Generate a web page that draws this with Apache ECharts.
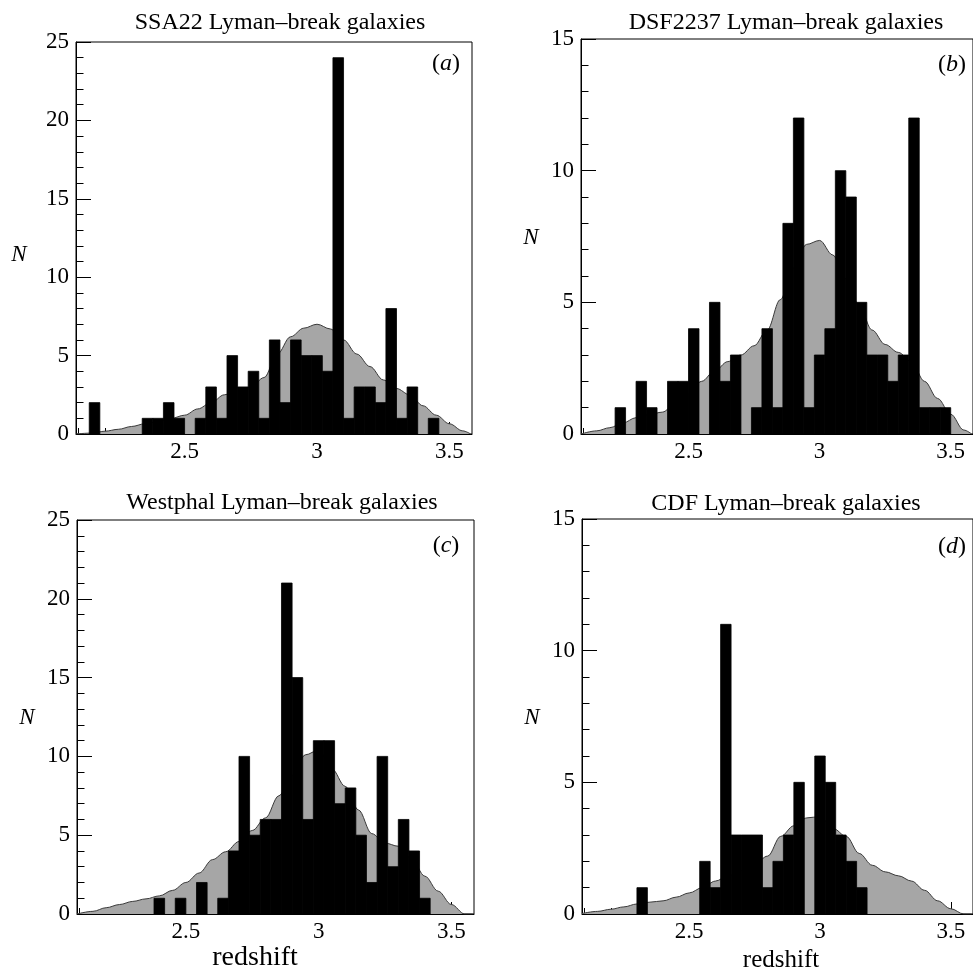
<!DOCTYPE html>
<html>
<head>
<meta charset="utf-8">
<script src="https://cdn.jsdelivr.net/npm/echarts@6/dist/echarts.min.js"></script>
<style>
html,body{margin:0;padding:0;background:#fff;}
#chart{width:973px;height:974px;}
</style>
</head>
<body>
<div id="chart"></div>
<script>
// ---------------- DATA ----------------
const binEdges = [2.10,2.14,2.18,2.22,2.26,2.30,2.34,2.38,2.42,2.46,2.50,2.54,2.58,2.62,2.66,2.70,2.74,2.78,2.82,2.86,2.90,2.94,2.98,3.02,3.06,3.10,3.14,3.18,3.22,3.26,3.30,3.34,3.38,3.42,3.46];
const binWidth = 0.04;
const countsSSA22    = [0,2,0,0,0,0,1,1,2,1,0,1,3,1,5,3,4,1,6,2,6,5,5,4,24,1,3,3,2,8,1,3,0,1,0];
const countsDSF2237  = [0,0,0,1,0,2,1,0,2,2,4,0,5,2,3,0,1,4,1,8,12,1,3,4,10,9,5,3,3,2,3,12,1,1,1];
const countsWestphal = [0,0,0,0,0,0,0,1,0,1,0,2,0,1,4,10,5,6,6,21,15,6,11,11,7,8,5,2,10,3,6,4,1,0,0];
const countsCDF      = [0,0,0,0,0,1,0,0,0,0,0,2,1,11,3,3,3,1,2,3,5,0,6,5,3,2,1,0,0,0,0,0,0,0,0];

const curveZ = [2.09,2.15,2.20,2.25,2.30,2.35,2.40,2.45,2.50,2.55,2.60,2.65,2.70,2.75,2.80,2.85,2.90,2.95,3.00,3.05,3.10,3.15,3.20,3.25,3.30,3.35,3.40,3.45,3.50,3.55,3.58];
const curveSSA22    = [0,0.06,0.18,0.30,0.48,0.65,0.80,1.00,1.20,1.60,2.00,2.50,2.75,3.00,3.60,5.10,6.20,6.75,7.00,6.70,6.00,5.10,4.30,3.45,2.90,2.50,1.80,1.20,0.65,0.20,0];
const curveDSF2237  = [0,0.12,0.24,0.42,0.62,0.74,0.83,1.15,1.55,2.00,2.40,2.75,3.00,3.35,3.95,5.10,6.30,7.20,7.35,6.80,5.90,4.90,3.95,3.40,3.10,2.75,2.00,1.35,0.75,0.15,0];
const curveWestphal = [0,0.17,0.40,0.60,0.80,0.96,1.15,1.50,2.00,2.60,3.45,3.95,4.60,5.30,6.10,7.50,8.80,10.10,10.40,9.20,8.10,6.60,5.10,4.50,4.30,3.50,2.40,1.45,0.60,0,0];
const curveCDF      = [0.02,0.10,0.18,0.27,0.38,0.45,0.50,0.64,0.80,1.00,1.25,1.45,1.65,1.90,2.20,2.95,3.35,3.65,3.70,3.25,2.95,2.30,1.85,1.60,1.45,1.25,0.90,0.50,0.20,0,0];

const xTickLabels = [2.5, 3, 3.5];
const xMinorTicks = [2.1,2.2,2.3,2.4,2.5,2.6,2.7,2.8,2.9,3.0,3.1,3.2,3.3,3.4,3.5];
const xRange = [2.09, 3.585];
const yMaxes = [25, 15, 25, 15];

const titles = ['SSA22 Lyman\u2013break galaxies','DSF2237 Lyman\u2013break galaxies','Westphal Lyman\u2013break galaxies','CDF Lyman\u2013break galaxies'];
const letters = ['a','b','c','d'];
const xAxisTitle = 'redshift';
const yAxisTitle = 'N';

// ---------------- LAYOUT ----------------
const grids = [
  {left:76,  top:42,  width:396, height:392},
  {left:581, top:39,  width:397, height:395},
  {left:77,  top:520, width:397, height:394},
  {left:582, top:519, width:397, height:395}
];
const countsAll = [countsSSA22, countsDSF2237, countsWestphal, countsCDF];
const curvesAll = [curveSSA22, curveDSF2237, curveWestphal, curveCDF];

const FONT = "'Liberation Serif','DejaVu Serif',serif";

const chart = echarts.init(document.getElementById('chart'), null, {renderer:'canvas'});

const gridOpt = [], xAxes = [], yAxes = [], series = [];
grids.forEach((g, i) => {
  gridOpt.push(Object.assign({show:true, borderColor:'#000', borderWidth:1, backgroundColor:'transparent', containLabel:false}, g));
  xAxes.push({
    type:'value', gridIndex:i, min:xRange[0], max:xRange[1], position:'bottom',
    axisLine:{show:true, lineStyle:{color:'#000', width:1}},
    axisTick:{show:true, inside:true, length:12, customValues:xTickLabels, lineStyle:{color:'#000', width:1}},
    axisLabel:{show:true, customValues:xTickLabels, margin:6, color:'#000', fontFamily:FONT, fontSize:23},
    splitLine:{show:false}
  });
  xAxes.push({
    type:'value', gridIndex:i, min:xRange[0], max:xRange[1], position:'bottom',
    axisLine:{show:false},
    axisTick:{show:true, inside:true, length:6, customValues:xMinorTicks, lineStyle:{color:'#000', width:1}},
    axisLabel:{show:false},
    splitLine:{show:false}
  });
  yAxes.push({
    type:'value', gridIndex:i, min:0, max:yMaxes[i], interval:5,
    axisLine:{show:true, lineStyle:{color:'#000', width:1}},
    axisTick:{show:true, inside:true, length:15, lineStyle:{color:'#000', width:1}},
    minorTick:{show:true, splitNumber:5, length:7.5, lineStyle:{color:'#000', width:1}},
    axisLabel:{show:true, margin:7, color:'#000', fontFamily:FONT, fontSize:23},
    splitLine:{show:false}
  });
  series.push({
    type:'line', xAxisIndex:2*i, yAxisIndex:i, z:1,
    data: curveZ.map((z, k) => [z, curvesAll[i][k]]),
    smooth:0.35, smoothMonotone:'x', showSymbol:false, symbol:'none',
    lineStyle:{color:'#3a3a3a', width:1},
    areaStyle:{color:'#a6a6a6', opacity:1},
    silent:true
  });
  series.push({
    type:'custom', xAxisIndex:2*i, yAxisIndex:i, z:3, clip:true,
    data: binEdges.map((e, k) => [e, countsAll[i][k]]),
    encode:{x:0, y:1},
    renderItem:function(params, api){
      const x0 = api.value(0), v = api.value(1);
      if (!v) return null;
      const p1 = api.coord([x0, v]);
      const p2 = api.coord([x0 + binWidth, 0]);
      return {type:'rect', shape:{x:p1[0], y:p1[1], width:p2[0]-p1[0], height:p2[1]-p1[1]},
              style:{fill:'#000', stroke:'#000', lineWidth:0.8}};
    },
    silent:true
  });
});

function txt(text, x, y, size, opts) {
  opts = opts || {};
  return {
    type:'text', x:x, y:y, z:10, silent:true,
    style:Object.assign({
      text:text, fill:'#000', fontFamily:FONT, fontSize:size,
      fontStyle: opts.italic ? 'italic' : 'normal',
      align:'center', verticalAlign:'middle',
      textAlign:'center', textVerticalAlign:'middle'
    }, opts.rich ? {rich:opts.rich} : {})
  };
}

const titlePos = [[280,23],[786,23],[282,503],[786,504]];
const letterPos = [[446,64],[952,65],[446,546],[952,547]];
const nPos = [[19,255],[531,238],[27,718],[532,718]];
const graphics = [];
titles.forEach((t,i) => graphics.push(txt(t, titlePos[i][0], titlePos[i][1], 24)));
letters.forEach((l,i) => graphics.push(txt('({it|' + l + '})', letterPos[i][0], letterPos[i][1], 24,
  {rich:{it:{fontStyle:'italic', fontFamily:FONT, fontSize:24, fill:'#000'}}})));
nPos.forEach(p => graphics.push(txt(yAxisTitle, p[0], p[1], 23, {italic:true})));
graphics.push(txt(xAxisTitle, 255, 958, 28));
graphics.push(txt(xAxisTitle, 781, 960, 25));

chart.setOption({
  backgroundColor:'#fff',
  animation:false,
  grid:gridOpt,
  xAxis:xAxes,
  yAxis:yAxes,
  series:series,
  graphic:{elements:graphics}
});
</script>
</body>
</html>
